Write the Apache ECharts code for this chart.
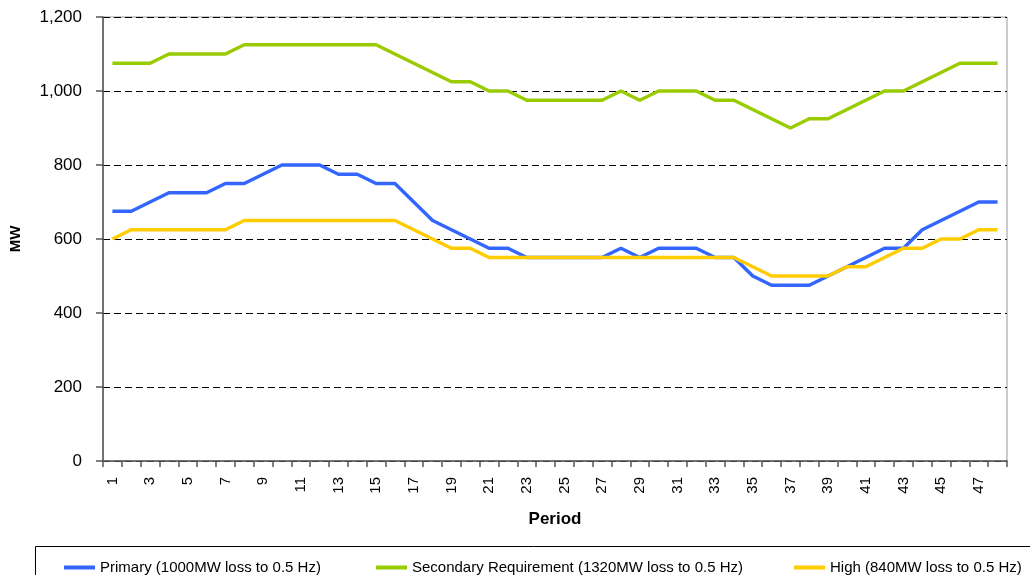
<!DOCTYPE html>
<html>
<head>
<meta charset="utf-8">
<script src="https://cdn.jsdelivr.net/npm/echarts@6/dist/echarts.min.js"></script>
<style>
  html, body { margin: 0; padding: 0; background: #fff; }
  #chart { width: 1030px; height: 575px; }
</style>
</head>
<body>
<div id="chart"></div>
<script>
const periods = ['1','2','3','4','5','6','7','8','9','10','11','12','13','14','15','16','17','18','19','20','21','22','23','24',
  '25','26','27','28','29','30','31','32','33','34','35','36','37','38','39','40','41','42','43','44','45','46','47','48']
const primary = [675, 675, 700, 725, 725, 725, 750, 750, 775, 800, 800, 800, 775, 775, 750, 750, 700, 650, 625, 600, 575, 575, 550, 550,
  550, 550, 550, 575, 550, 575, 575, 575, 550, 550, 500, 475, 475, 475, 500, 525, 550, 575, 575, 625, 650, 675, 700, 700]
const secondary = [1075, 1075, 1075, 1100, 1100, 1100, 1100, 1125, 1125, 1125, 1125, 1125, 1125, 1125, 1125, 1100, 1075, 1050, 1025, 1025, 1000, 1000, 975, 975,
  975, 975, 975, 1000, 975, 1000, 1000, 1000, 975, 975, 950, 925, 900, 925, 925, 950, 975, 1000, 1000, 1025, 1050, 1075, 1075, 1075]
const high = [600, 625, 625, 625, 625, 625, 625, 650, 650, 650, 650, 650, 650, 650, 650, 650, 625, 600, 575, 575, 550, 550, 550, 550,
  550, 550, 550, 550, 550, 550, 550, 550, 550, 550, 525, 500, 500, 500, 500, 525, 525, 550, 575, 575, 600, 600, 625, 625]
const seriesNames = ['Primary (1000MW loss to 0.5 Hz)', 'Secondary Requirement (1320MW loss to 0.5 Hz)', 'High (840MW loss to 0.5 Hz)']
const colors = ['#3366ff', '#99cc00', '#ffcc00']

const font = '"Liberation Sans", Arial, sans-serif'
const axisColor = '#555'
const legendLeft = [59, 371, 789]

function line(name, data, color) {
  return {
    name,
    type: 'line',
    data,
    symbol: 'none',
    color,
    lineStyle: { width: 3.5, color },
    animation: false
  }
}

// one legend per entry so each can sit where the reference puts it
const legends = seriesNames.map((name, i) => ({
  left: legendLeft[i],
  top: 555,
  icon: 'rect',
  itemWidth: 31,
  itemHeight: 4,
  textStyle: { fontFamily: font, fontSize: 15, color: '#000' },
  data: [name]
}))

const chart = echarts.init(document.getElementById('chart'))
chart.setOption({
  animation: false,
  textStyle: { fontFamily: font },
  grid: { left: 100, right: 23, top: 17, bottom: 114, show: true, borderColor: '#999', borderWidth: 1 },
  legend: legends,
  graphic: [{
    type: 'rect',
    shape: { x: 35.5, y: 546.5, width: 1100, height: 100 },
    style: { fill: 'none', stroke: '#000', lineWidth: 1 },
    silent: true
  }],
  xAxis: {
    type: 'category',
    data: periods,
    boundaryGap: true,
    name: 'Period',
    nameLocation: 'middle',
    nameGap: 50,
    nameTextStyle: { fontFamily: font, fontSize: 17, fontWeight: 'bold', color: '#000' },
    axisLine: { lineStyle: { color: axisColor, width: 1.5 } },
    axisTick: { show: true, interval: 0, length: 6, lineStyle: { color: axisColor, width: 1.5 } },
    axisLabel: { interval: 1, rotate: 90, margin: 16, fontFamily: font, fontSize: 15, color: '#000' }
  },
  yAxis: {
    type: 'value',
    min: 0,
    max: 1200,
    interval: 200,
    name: 'MW',
    nameLocation: 'middle',
    nameGap: 80,
    nameTextStyle: { fontFamily: font, fontSize: 15, fontWeight: 'bold', color: '#000' },
    axisLine: { show: true, lineStyle: { color: axisColor, width: 1.5 } },
    axisTick: { show: true, length: 7, lineStyle: { color: axisColor, width: 1.5 } },
    axisLabel: {
      margin: 21,
      fontFamily: font,
      fontSize: 17,
      color: '#000',
      formatter: (v) => v.toLocaleString('en-US')
    },
    splitLine: { show: true, lineStyle: { color: '#000', type: [7, 4], width: 1 } }
  },
  series: [
    line(seriesNames[0], primary, colors[0]),
    line(seriesNames[1], secondary, colors[1]),
    line(seriesNames[2], high, colors[2])
  ]
})
</script>
</body>
</html>
